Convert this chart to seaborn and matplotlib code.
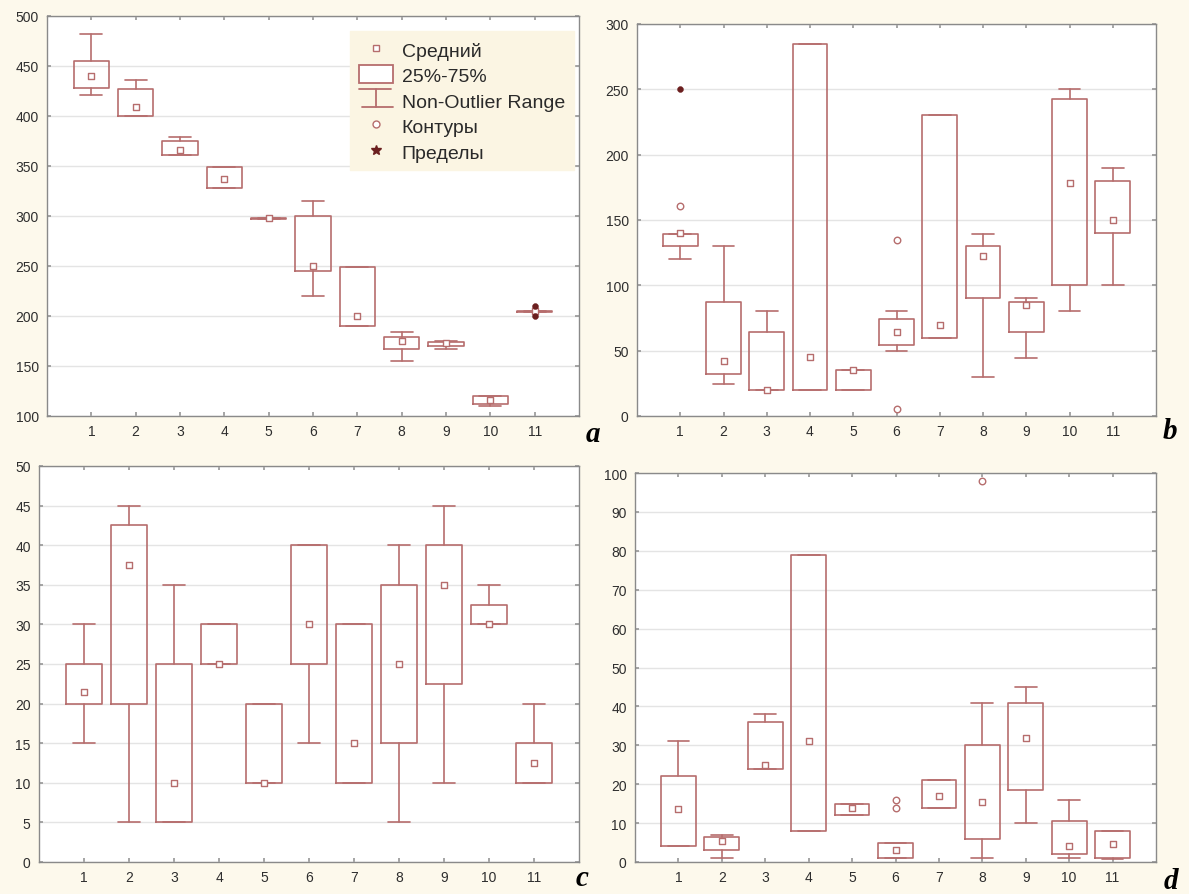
import numpy as np
import matplotlib
matplotlib.use("Agg")
import matplotlib.pyplot as plt
import seaborn as sns
from matplotlib.lines import Line2D
from matplotlib.patches import Rectangle
from matplotlib.legend_handler import HandlerBase

groups = list(range(1, 11 + 1))

# panel a
a_mid = [440.5, 409, 366.5, 337.5, 298, 250, 200.5, 175.5, 173.5, 116.5, 205]
a_q1 = [428, 400, 361.5, 328.5, 297, 245, 190, 167.5, 170, 112.5, 204.5]
a_q3 = [455.5, 427, 375.5, 349, 298.5, 300, 249.5, 179, 174.5, 120.5, 205.5]
a_lo = [421, 400, 361.5, 328.5, 297, 220.5, 190, 155, 167.5, 110.5, 204.5]
a_hi = [482.5, 436.5, 379.5, 349, 298.5, 315.5, 249.5, 184.5, 175, 120.5, 205.5]
a_out_x, a_out_y = [], []
a_ext_x, a_ext_y = [11, 11], [210.5, 200]

# panel b
b_mid = [140, 42, 20, 45, 35, 64.5, 70, 122.5, 85, 178, 150]
b_q1 = [130, 32.5, 20, 20, 20, 54.5, 59.5, 90, 64.5, 100, 140]
b_q3 = [139.5, 87.5, 64.5, 285, 35, 74.5, 230, 130, 87.5, 242.5, 180]
b_lo = [120, 24.5, 20, 20, 20, 50, 59.5, 30, 44.5, 80, 100]
b_hi = [139.5, 130, 80, 285, 35, 80, 230, 139.5, 90, 250, 190]
b_out_x, b_out_y = [1, 6, 6], [160.5, 135, 5]
b_ext_x, b_ext_y = [1], [250]

# panel c
c_mid = [21.5, 37.5, 10, 25, 10, 30, 15, 25, 35, 30, 12.5]
c_q1 = [20, 20, 5, 25, 10, 25, 10, 15, 22.5, 30, 10]
c_q3 = [25, 42.5, 25, 30, 20, 40, 30, 35, 40, 32.5, 15]
c_lo = [15, 5, 5, 25, 10, 15, 10, 5, 10, 30, 10]
c_hi = [30, 45, 35, 30, 20, 40, 30, 40, 45, 35, 20]
c_out_x, c_out_y = [], []
c_ext_x, c_ext_y = [], []

# panel d
d_mid = [13.5, 5.5, 25, 31, 14, 3, 17, 15.5, 32, 4, 4.5]
d_q1 = [4, 3, 24, 8, 12, 1, 14, 6, 18.5, 2, 1]
d_q3 = [22, 6.5, 36, 79, 15, 5, 21, 30, 41, 10.5, 8]
d_lo = [4, 1, 24, 8, 12, 1, 14, 1, 10, 1, 0.7]
d_hi = [31, 7, 38, 79, 15, 5, 21, 41, 45, 16, 8]
d_out_x, d_out_y = [6, 6, 8], [16, 14, 98]
d_ext_x, d_ext_y = [], []

BOX = "#b66d6d"
EXT = "#6b1f1f"
CREAM = "#fdf9ec"

sns.set_theme(style="white")
plt.rcParams["font.family"] = ["Liberation Sans", "DejaVu Sans"]


class WhiskerHandler(HandlerBase):
    def create_artists(self, legend, orig_handle, xdescent, ydescent,
                       width, height, fontsize, trans):
        cx = width / 2 - xdescent
        top = height * 1.0
        bot = 0.0
        lines = [
            Line2D([0, width * 0.95], [top, top]),
            Line2D([cx, cx], [bot, top]),
            Line2D([width * 0.08, width], [bot, bot]),
        ]
        for ln in lines:
            ln.set_color(BOX)
            ln.set_linewidth(1.3)
            ln.set_transform(trans)
        return lines


def draw_panel(ax, mid, q1, q3, lo, hi, out_x, out_y, ext_x, ext_y, ylim, ystep):
    stats = []
    for i in range(len(groups)):
        stats.append({"med": mid[i], "q1": q1[i], "q3": q3[i],
                      "whislo": lo[i], "whishi": hi[i], "fliers": []})
    ax.bxp(stats, positions=groups, widths=0.8, showfliers=False,
           boxprops=dict(color=BOX, linewidth=1.2),
           whiskerprops=dict(color=BOX, linewidth=1.2),
           capprops=dict(color=BOX, linewidth=1.2),
           medianprops=dict(linewidth=0), capwidths=0.5)
    sns.scatterplot(x=groups, y=mid, marker="s", s=22, facecolor="white",
                    edgecolor=BOX, linewidth=1.0, ax=ax, zorder=5)
    if out_x:
        sns.scatterplot(x=out_x, y=out_y, marker="o", s=22, facecolor="white",
                        edgecolor=BOX, linewidth=1.0, ax=ax, zorder=5)
    if ext_x:
        sns.scatterplot(x=ext_x, y=ext_y, marker="o", s=18, color=EXT,
                        edgecolor=EXT, ax=ax, zorder=6)
    ax.set_xlim(0, 12)
    ax.set_ylim(*ylim)
    ax.set_xticks(groups)
    ax.set_xticklabels([str(g) for g in groups])
    ax.set_yticks(np.arange(ylim[0], ylim[1] + ystep / 2, ystep))
    ax.yaxis.grid(True, color="#e4e4e4", linewidth=1.0)
    ax.xaxis.grid(False)
    ax.set_axisbelow(True)
    ax.set_facecolor("white")
    for sp in ax.spines.values():
        sp.set_color("#8a8a8a")
        sp.set_linewidth(1.0)
    ax.tick_params(axis="both", direction="in", length=3, color="#9a9a9a",
                   labelsize=10, labelcolor="#2e2e2e", top=True, right=True,
                   left=True, bottom=True, pad=6)


fig = plt.figure(figsize=(11.89, 8.95), dpi=100, facecolor=CREAM)
W, H = 1189, 895


def add_ax(x0, y0, x1, y1):
    return fig.add_axes([x0 / W, 1 - y1 / H, (x1 - x0) / W, (y1 - y0) / H])


ax_a = add_ax(47, 17, 579, 417)
ax_b = add_ax(637, 25, 1156, 417)
ax_c = add_ax(39, 467, 579, 863)
ax_d = add_ax(635, 474, 1156, 863)

draw_panel(ax_a, a_mid, a_q1, a_q3, a_lo, a_hi, a_out_x, a_out_y, a_ext_x, a_ext_y, (100, 500), 50)
draw_panel(ax_b, b_mid, b_q1, b_q3, b_lo, b_hi, b_out_x, b_out_y, b_ext_x, b_ext_y, (0, 300), 50)
draw_panel(ax_c, c_mid, c_q1, c_q3, c_lo, c_hi, c_out_x, c_out_y, c_ext_x, c_ext_y, (0, 50), 5)
draw_panel(ax_d, d_mid, d_q1, d_q3, d_lo, d_hi, d_out_x, d_out_y, d_ext_x, d_ext_y, (0, 100), 10)

# legend in panel a
h_mean = Line2D([], [], linestyle="none", marker="s", markersize=5,
                markerfacecolor="white", markeredgecolor=BOX)
h_box = Rectangle((0, 0), 1, 1, facecolor="white", edgecolor=BOX, linewidth=1.3)
h_whisk = object()
h_out = Line2D([], [], linestyle="none", marker="o", markersize=5,
               markerfacecolor="white", markeredgecolor=BOX)
h_ext = Line2D([], [], linestyle="none", marker="*", markersize=7,
               markerfacecolor=EXT, markeredgecolor=EXT)
leg = ax_a.legend([h_mean, h_box, h_whisk, h_out, h_ext],
                  ["Средний", "25%-75%", "Non-Outlier Range", "Контуры", "Пределы"],
                  handler_map={h_whisk: WhiskerHandler()},
                  loc="upper right", bbox_to_anchor=(0.99, 0.962),
                  borderaxespad=0, fontsize=14, handlelength=1.75,
                  handleheight=1.05, handletextpad=0.45, labelspacing=0.3,
                  frameon=True, fancybox=False, facecolor="#fbf5e3",
                  edgecolor="#fbf5e3", framealpha=1.0, borderpad=0.45)
for t in leg.get_texts():
    t.set_color("#2a2a2a")

for letter, (px, py) in zip("abcd", [(593, 434), (1170, 432), (582, 879), (1171, 882)]):
    fig.text(px / W, 1 - py / H, letter, fontsize=21, fontstyle="italic",
             fontweight="bold", family="Liberation Serif", ha="center",
             va="center", color="black")

plt.savefig("out.png", dpi=100, facecolor=CREAM)
plt.close()
